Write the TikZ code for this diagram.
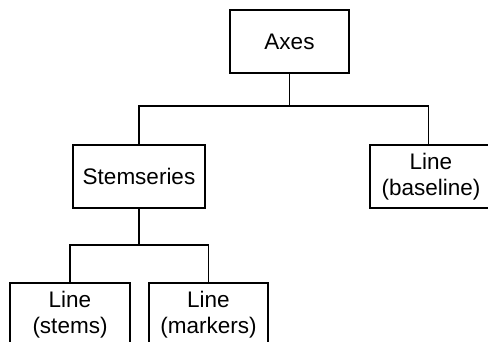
\documentclass[tikz,border=0pt]{standalone}
\usepackage{fontspec}
\setmainfont{Liberation Sans}
\begin{document}
\begin{tikzpicture}[x=1pt,y=-1pt,
  treebox/.style={draw=black, line width=1.7pt, inner sep=0pt, minimum height=63pt,
    align=center, font=\fontsize{22.5}{25.5}\selectfont},
  link/.style={draw=black, line width=1.7pt}]
\useasboundingbox (0,0) rectangle (488,341);
\clip (0,0) rectangle (488,341);
\node[treebox, minimum width=119pt] (axes) at (289.5,41.5) {Axes};
\node[treebox, minimum width=132pt] (stem) at (139,176.5) {Stemseries};
\node[treebox, minimum width=122pt] (base) at (431,176.5) {Line\\(baseline)};
\node[treebox, minimum width=120pt] (stems) at (70,314.5) {Line\\(stems)};
\node[treebox, minimum width=119pt] (mark) at (208.5,314.5) {Line\\(markers)};
\coordinate (j1) at (289.5,106);
\coordinate (j2) at (139,245);
\draw[link] (axes.south) -- (j1);
\draw[link] (stem.north) |- (j1) -| ([xshift=-2.5pt]base.north);
\draw[link] (stem.south) -- (j2);
\draw[link] (stems.north) |- (j2) -| (mark.north);
\end{tikzpicture}
\end{document}
